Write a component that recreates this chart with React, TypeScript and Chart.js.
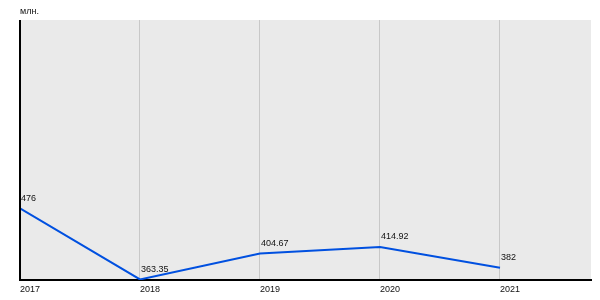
import React, { useEffect, useRef } from "react";
import { Chart, registerables } from "chart.js";

Chart.register(...registerables);

const years = [2017, 2018, 2019, 2020, 2021];
const values = [476, 363.35, 404.67, 414.92, 382];
const valueLabels = ["476", "363.35", "404.67", "414.92", "382"];
const unitLabel = "млн.";

const FONT = "Liberation Sans, Arial, sans-serif";

const customPlugin = {
  id: "custom",
  beforeDraw(chart: any) {
    const { ctx, chartArea } = chart;
    ctx.save();
    ctx.fillStyle = "#eaeaea";
    ctx.fillRect(chartArea.left, chartArea.top, chartArea.right - chartArea.left, chartArea.bottom - chartArea.top);
    ctx.restore();
  },
  afterDraw(chart: any) {
    const { ctx, chartArea } = chart;
    ctx.save();
    ctx.strokeStyle = "#000";
    ctx.lineWidth = 2;
    ctx.beginPath();
    ctx.moveTo(chartArea.left, chartArea.top);
    ctx.lineTo(chartArea.left, chartArea.bottom);
    ctx.stroke();
    ctx.fillStyle = "#111";
    ctx.font = "9px " + FONT;
    ctx.textAlign = "left";
    ctx.textBaseline = "middle";
    ctx.fillText(unitLabel, chartArea.left, 12);
    const meta = chart.getDatasetMeta(0);
    meta.data.forEach((pt: any, i: number) => {
      ctx.fillText(valueLabels[i], pt.x + 1, pt.y - 10);
    });
    ctx.restore();
  },
};

export default function App() {
  const ref = useRef<HTMLCanvasElement | null>(null);
  useEffect(() => {
    document.body.style.margin = "0";
    const chart = new Chart(ref.current as HTMLCanvasElement, {
      type: "line",
      data: {
        datasets: [
          {
            data: years.map((y, i) => ({ x: y, y: values[i] })),
            borderColor: "#0050e0",
            borderWidth: 2,
            pointRadius: 0,
            tension: 0,
            fill: false,
          },
        ],
      },
      options: {
        animation: false,
        responsive: false,
        maintainAspectRatio: false,
        layout: { padding: { top: 20, right: 9, left: 0, bottom: 0 } },
        plugins: { legend: { display: false }, tooltip: { enabled: false } },
        scales: {
          x: {
            type: "linear",
            min: 2017,
            max: 2017 + 571 / 120,
            afterBuildTicks: (s: any) => {
              s.ticks = years.map((v) => ({ value: v }));
            },
            afterFit: (s: any) => {
              s.height = 20;
            },
            grid: { color: "#c8c8c8", lineWidth: 1, drawTicks: false },
            border: { color: "#000", width: 2 },
            ticks: {
              align: "start",
              padding: 4,
              color: "#111",
              font: { size: 9, family: FONT },
              callback: (v: any) => String(v),
              maxRotation: 0,
            },
          },
          y: {
            min: 362.5,
            max: 775,
            afterFit: (s: any) => {
              s.width = 20;
            },
            grid: { display: false },
            border: { display: false },
            ticks: { display: false },
          },
        },
      },
      plugins: [customPlugin],
    } as any);
    return () => chart.destroy();
  }, []);
  return <canvas ref={ref} width={600} height={300} style={{ display: "block" }} />;
}
